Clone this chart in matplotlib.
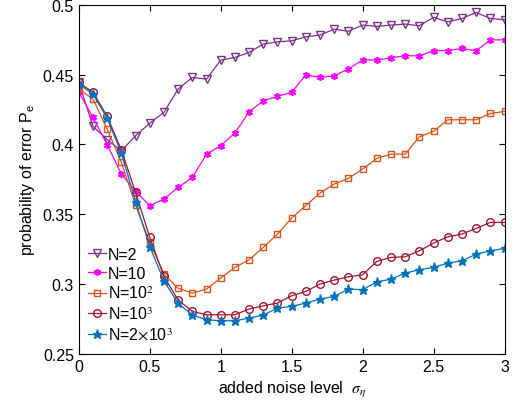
import numpy as np
import matplotlib
matplotlib.use("Agg")
import matplotlib.pyplot as plt

plt.rcParams['font.family'] = ['Liberation Sans', 'DejaVu Sans']
plt.rcParams['mathtext.fontset'] = 'stix'

# noise levels 0, 0.1, ..., 3.0
sigma = np.round(np.arange(0, 3.01, 0.1), 1)

pe_n2 = [0.4444, 0.4130, 0.4034, 0.3955, 0.4062, 0.4153, 0.4230, 0.4397, 0.4480, 0.4468,
         0.4604, 0.4623, 0.4659, 0.4719, 0.4735, 0.4742, 0.4771, 0.4783, 0.4826, 0.4810,
         0.4855, 0.4845, 0.4855, 0.4862, 0.4850, 0.4910, 0.4878, 0.4902, 0.4945, 0.4902,
         0.4893]
pe_n10 = [0.4373, 0.4194, 0.3998, 0.3788, 0.3667, 0.3561, 0.3610, 0.3693, 0.3764, 0.3931,
          0.3991, 0.4082, 0.4234, 0.4313, 0.4344, 0.4373, 0.4499, 0.4480, 0.4492, 0.4540,
          0.4606, 0.4604, 0.4621, 0.4635, 0.4635, 0.4671, 0.4671, 0.4688, 0.4671, 0.4749,
          0.4749]
pe_n1e2 = [0.4397, 0.4325, 0.4110, 0.3872, 0.3566, 0.3299, 0.3072, 0.2970, 0.2936, 0.2965,
           0.3044, 0.3120, 0.3175, 0.3263, 0.3359, 0.3473, 0.3563, 0.3652, 0.3717, 0.3757,
           0.3824, 0.3900, 0.3931, 0.3931, 0.4055, 0.4094, 0.4177, 0.4177, 0.4177, 0.4222,
           0.4237]
pe_n1e3 = [0.4444, 0.4373, 0.4201, 0.3960, 0.3657, 0.3335, 0.3055, 0.2886, 0.2805, 0.2781,
           0.2781, 0.2781, 0.2822, 0.2845, 0.2865, 0.2917, 0.2948, 0.3001, 0.3029, 0.3053,
           0.3067, 0.3163, 0.3192, 0.3196, 0.3239, 0.3294, 0.3339, 0.3359, 0.3399, 0.3442,
           0.3442]
pe_n2e3 = [0.4432, 0.4361, 0.4187, 0.3938, 0.3590, 0.3268, 0.3024, 0.2862, 0.2779, 0.2745,
           0.2738, 0.2738, 0.2757, 0.2779, 0.2829, 0.2841, 0.2865, 0.2893, 0.2912, 0.2965,
           0.2960, 0.3017, 0.3036, 0.3079, 0.3103, 0.3120, 0.3151, 0.3167, 0.3215, 0.3239,
           0.3256]

fig = plt.figure(figsize=(5.22, 4.14), dpi=100)
ax = fig.add_axes([0.151, 0.1425, 0.8155, 0.8435])

ax.plot(sigma, pe_n2, color='#7E2F8E', marker='v', mfc='none', ms=6, lw=0.9, label='N=2')
ax.plot(sigma, pe_n10, color='#FF00FF', marker=(6, 2, 0), ms=5, mew=1.2, lw=0.9, label='N=10')
ax.plot(sigma, pe_n1e2, color='#D95319', marker='s', mfc='none', ms=5, lw=0.9, label='N=10$^2$')
ax.plot(sigma, pe_n1e3, color='#A2142F', marker='o', mfc='none', ms=5.5, lw=0.9, label='N=10$^3$')
ax.plot(sigma, pe_n2e3, color='#0072BD', marker='*', ms=6.5, lw=0.9,
        label='N=2$\\times$10$^3$')

ax.set_xlim(0, 3)
ax.set_ylim(0.25, 0.5)
ax.set_xticks([0, 0.5, 1, 1.5, 2, 2.5, 3])
ax.set_xticklabels(['0', '0.5', '1', '1.5', '2', '2.5', '3'])
ax.set_yticks([0.25, 0.3, 0.35, 0.4, 0.45, 0.5])
ax.set_yticklabels(['0.25', '0.3', '0.35', '0.4', '0.45', '0.5'])
ax.tick_params(direction='in', top=True, right=True, labelsize=11.5, length=4)
for s in ax.spines.values():
    s.set_linewidth(0.8)

ax.set_xlabel(r'added noise level  $\sigma_\eta$', fontsize=11.5)
ax.set_ylabel(r'probability of error P$_{\mathregular{e}}$', fontsize=11.5)

ax.legend(loc='upper left', bbox_to_anchor=(0.0, 0.335), frameon=False, fontsize=11.5,
          handlelength=1.1, handletextpad=0.1, labelspacing=0.25, borderaxespad=0.2)

fig.savefig('out.png', dpi=100)
